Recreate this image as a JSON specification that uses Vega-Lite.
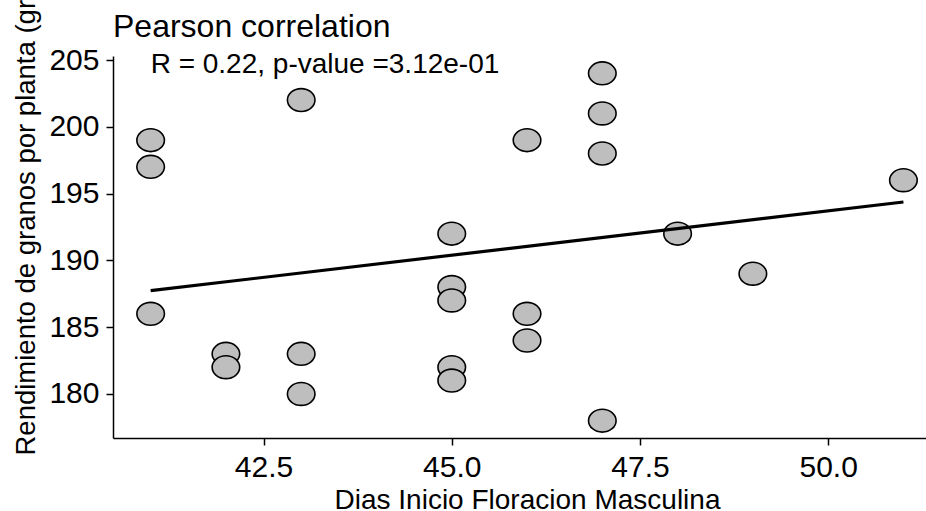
{
  "$schema": "https://vega.github.io/schema/vega-lite/v6.json",
  "autosize": {"type": "none"},
  "width": 813,
  "height": 382,
  "padding": {"left": 113, "top": 56, "right": 0, "bottom": 73},
  "background": "white",
  "title": {
    "text": "Pearson correlation",
    "anchor": "start",
    "frame": "group",
    "font": "Liberation Sans",
    "fontSize": 32,
    "fontWeight": "normal",
    "color": "black",
    "baseline": "alphabetic",
    "offset": -79
  },
  "datasets": {
    "points": [
      {"dias": 41, "rend": 199}, {"dias": 41, "rend": 197}, {"dias": 41, "rend": 186},
      {"dias": 42, "rend": 183}, {"dias": 42, "rend": 182},
      {"dias": 43, "rend": 202}, {"dias": 43, "rend": 183}, {"dias": 43, "rend": 180},
      {"dias": 45, "rend": 192}, {"dias": 45, "rend": 188}, {"dias": 45, "rend": 187}, {"dias": 45, "rend": 182}, {"dias": 45, "rend": 181},
      {"dias": 46, "rend": 199}, {"dias": 46, "rend": 186}, {"dias": 46, "rend": 184},
      {"dias": 47, "rend": 204}, {"dias": 47, "rend": 201}, {"dias": 47, "rend": 198}, {"dias": 47, "rend": 178},
      {"dias": 48, "rend": 192},
      {"dias": 49, "rend": 189},
      {"dias": 51, "rend": 196}
    ],
    "fit": [
      {"dias": 41, "rend": 187.73},
      {"dias": 51, "rend": 194.37}
    ],
    "label": [
      {"dias": 41, "rend": 204, "txt": "R = 0.22, p-value =3.12e-01"}
    ]
  },
  "layer": [
    {
      "data": {"name": "points"},
      "mark": {
        "type": "point",
        "shape": "M-1,0A1,0.83,0,1,1,1,0A1,0.83,0,1,1,-1,0Z",
        "size": 760,
        "filled": true,
        "fill": "#BEBEBE",
        "fillOpacity": 1,
        "stroke": "black",
        "strokeWidth": 1.6,
        "opacity": 1
      },
      "encoding": {
        "x": {
          "field": "dias", "type": "quantitative",
          "scale": {"domain": [40.5, 51.3], "nice": false, "zero": false},
          "axis": {
            "title": "Dias Inicio Floracion Masculina",
            "values": [42.5, 45, 47.5, 50],
            "format": ".1f",
            "grid": false,
            "domainColor": "black", "domainWidth": 1.5,
            "tickColor": "black", "tickWidth": 1.5, "tickSize": 7,
            "labelFont": "Liberation Sans", "labelFontSize": 30, "labelColor": "black",
            "labelPadding": 7,
            "titleFont": "Liberation Sans", "titleFontSize": 28, "titleFontWeight": "normal", "titleColor": "black",
            "titleAnchor": "middle", "titleBaseline": "alphabetic",
            "titleX": 414, "titleY": 70
          }
        },
        "y": {
          "field": "rend", "type": "quantitative",
          "scale": {"domain": [176.7, 205.3], "nice": false, "zero": false},
          "axis": {
            "title": "Rendimiento de granos por planta (gr)",
            "values": [180, 185, 190, 195, 200, 205],
            "grid": false,
            "domainColor": "black", "domainWidth": 1.5,
            "tickColor": "black", "tickWidth": 1.5, "tickSize": 7,
            "labelFont": "Liberation Sans", "labelFontSize": 30, "labelColor": "black",
            "labelPadding": 7,
            "titleFont": "Liberation Sans", "titleFontSize": 27.5, "titleFontWeight": "normal", "titleColor": "black",
            "titleAngle": 270, "titleAlign": "left", "titleBaseline": "alphabetic",
            "titleX": -79, "titleY": 399
          }
        }
      }
    },
    {
      "data": {"name": "fit"},
      "mark": {"type": "line", "color": "black", "strokeWidth": 3.2},
      "encoding": {
        "x": {"field": "dias", "type": "quantitative"},
        "y": {"field": "rend", "type": "quantitative"}
      }
    },
    {
      "data": {"name": "label"},
      "mark": {"type": "text", "align": "left", "baseline": "alphabetic", "font": "Liberation Sans", "fontSize": 28, "color": "black"},
      "encoding": {
        "x": {"field": "dias", "type": "quantitative"},
        "y": {"field": "rend", "type": "quantitative"},
        "text": {"field": "txt"}
      }
    }
  ],
  "config": {"view": {"stroke": null}}
}
